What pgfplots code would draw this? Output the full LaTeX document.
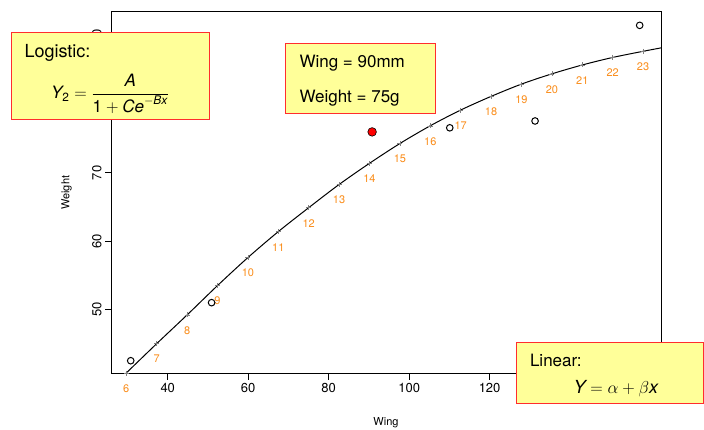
\documentclass[border=0pt]{standalone}
\usepackage{pgfplots}
\pgfplotsset{compat=1.18}
\usepackage{pgfplotstable}
\usepackage{fontspec}
\setmainfont{TeX Gyre Heros}
\definecolor{boxfill}{RGB}{255,255,153}
\definecolor{boxdraw}{RGB}{255,45,45}
\definecolor{labc}{RGB}{250,140,25}
\pgfplotstableread{
x y lab
29.70 40.70 6
37.26 45.00 7
44.81 49.20 8
52.37 53.50 9
59.92 57.60 10
67.48 61.40 11
75.03 64.90 12
82.59 68.30 13
90.14 71.40 14
97.70 74.30 15
105.26 76.90 16
112.81 79.20 17
120.37 81.20 18
127.92 83.00 19
135.48 84.50 20
143.03 85.80 21
150.59 86.90 22
158.14 87.80 23
}\curvepts
\pgfplotstableread{
x y
29.60 40.65
37.26 45.00
44.81 49.20
52.37 53.50
59.92 57.60
67.48 61.40
75.03 64.90
82.59 68.30
90.14 71.40
97.70 74.30
105.26 76.90
112.81 79.20
120.37 81.20
127.92 83.00
135.48 84.50
143.03 85.80
150.59 86.90
158.14 87.80
162.60 88.30
}\curveline
\pgfplotstableread{
x y
30.8 42.5
50.9 51.0
110.1 76.6
131.3 77.6
157.3 91.6
}\obs
\begin{document}
\begin{tikzpicture}[x=1pt,y=1pt]
\useasboundingbox (0,0) rectangle (704,430);
\begin{axis}[
  at={(111pt,56.3pt)}, anchor=south west,
  scale only axis, width=550pt, height=362pt,
  xmin=25.9, xmax=162.6, ymin=40.6, ymax=93.6,
  xtick={40,60,...,140}, xticklabels={40,60,80,100,120,},
  ytick={50,60,...,90}, yticklabels={50,60,70,,90},
  tick align=outside, tick pos=left,
  major tick length=6pt,
  tick style={black, line width=0.8pt},
  axis line style={line width=0.9pt},
  ticklabel style={font=\fontsize{13}{15}\selectfont},
  /pgf/number format/assume math mode=true,
  yticklabel style={rotate=90, anchor=south},
  clip=false,
]
\addplot[black, line width=1pt, smooth, mark=none] table[x=x,y=y] {\curveline};
\addplot[only marks, mark=+, mark size=2.5pt, mark options={gray, line width=0.5pt},
  nodes near coords, point meta=explicit symbolic,
  nodes near coords style={anchor=center, yshift=-15.5pt, text=labc,
    font=\fontsize{11}{13}\selectfont}]
  table[x=x,y=y,meta=lab] {\curvepts};
\addplot[only marks, mark=o, mark size=3.3pt, mark options={black, line width=1pt}] table[x=x,y=y] {\obs};
\addplot[only marks, mark=*, mark size=4.3pt, mark options={draw=black, fill=red, line width=0.6pt}] coordinates {(90.8,76.0)};
\node[font=\fontsize{11}{13}\selectfont, yshift=-49pt] at (rel axis cs:0.5,0) {Wing};
\node[xshift=-44.5pt, rotate=90, font=\fontsize{11}{13}\selectfont] at (rel axis cs:0,0.5) {Weight};
\end{axis}
% annotation boxes
\draw[fill=boxfill, draw=boxdraw, line width=1pt] (11.5,397) rectangle (209,310);
\node[anchor=base west, font=\fontsize{18}{20}\selectfont] at (21,372) {Logistic:};
\node[anchor=center, font=\fontsize{17}{20}\selectfont] at (110,336) {$\displaystyle \mathit{Y}_{\mathrm{2}} = \frac{\mathit{A}}{\mathrm{1}+\mathit{Ce}^{-\mathit{Bx}}}$};
\draw[fill=boxfill, draw=boxdraw, line width=1pt] (285,386.7) rectangle (435,316.7);
\node[anchor=base west, font=\fontsize{17}{20}\selectfont] at (296,362.7) {Wing = 90mm};
\node[anchor=base west, font=\fontsize{17}{20}\selectfont] at (296,327.3) {Weight = 75g};
\draw[fill=boxfill, draw=boxdraw, line width=1pt] (516,87.3) rectangle (703.5,26.7);
\node[anchor=base west, font=\fontsize{17}{20}\selectfont] at (526.5,63.3) {Linear:};
\node[anchor=base west, font=\fontsize{18}{20}\selectfont] at (570,36) {$\mathit{Y} = \alpha + \beta \mathit{x}$};
\end{tikzpicture}
\end{document}
